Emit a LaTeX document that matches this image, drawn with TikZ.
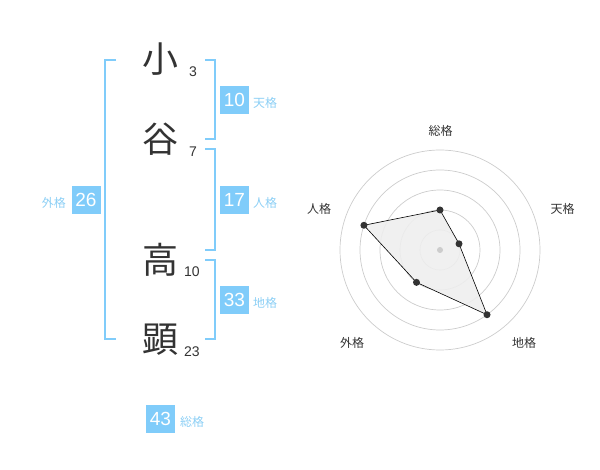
\documentclass[tikz,border=0pt]{standalone}
\usepackage{fontspec}
\setmainfont{Liberation Sans}
\newfontfamily\cjk{Noto Sans CJK JP}
\definecolor{accent}{HTML}{80CCFA}
\definecolor{lbl}{HTML}{8CCFF5}
\definecolor{ink}{HTML}{333333}
\definecolor{ring}{HTML}{CCCCCC}
\definecolor{area}{HTML}{EEEEEE}
\tikzset{
  kanji/.style={font=\cjk\fontsize{36}{36}\selectfont, text=ink, inner sep=0pt},
  stroke/.style={font=\fontsize{14}{14}\selectfont, text=ink, inner sep=0pt},
  numbox/.style={fill=accent, text=white, minimum width=29pt, minimum height=28pt, inner sep=0pt, font=\fontsize{19}{19}\selectfont},
  kaku/.style={font=\cjk\fontsize{12}{12}\selectfont, text=lbl, inner sep=0pt, anchor=west},
  bracket/.style={draw=accent, line width=2pt},
  ringline/.style={draw=ring, line width=0.7pt},
  axislbl/.style={font=\cjk\fontsize{12}{12}\selectfont, text=ink, inner sep=0pt},
  dot/.style={circle, fill=ink, inner sep=0pt, minimum size=7pt},
}
\begin{document}
\begin{tikzpicture}[x=1pt,y=-1pt]
\useasboundingbox (0,0) rectangle (600,470);
% characters
\node[kanji] (c1) at (160,59) {小};
\node[kanji] (c2) at (160,139) {谷};
\node[kanji] (c3) at (160,260) {高};
\node[kanji] (c4) at (160,340) {顕};
\node[stroke] (s1) at (193,72) {3};
\node[stroke] (s2) at (193,152) {7};
\node[stroke] (s3) at (192,272) {10};
\node[stroke] (s4) at (192,352) {23};
% brackets
\coordinate (lt) at (116,60); \coordinate (lb) at (116,339);
\draw[bracket] (lt) -- (105,60) -- (105,339) -- (lb);
\coordinate (t1) at (205,60); \coordinate (t2) at (205,139.5);
\draw[bracket] (t1) -- (215,60) -- (215,139.5) -- (t2);
\coordinate (p1) at (205,149.5); \coordinate (p2) at (205,250);
\draw[bracket] (p1) -- (215,149.5) -- (215,250) -- (p2);
\coordinate (g1) at (205,260); \coordinate (g2) at (205,339);
\draw[bracket] (g1) -- (215,260) -- (215,339) -- (g2);
% boxes
\node[numbox] (ten) at (234.5,100) {10};
\node[kaku] (tenl) at (253,103) {天格};
\node[numbox] (jin) at (234.5,200) {17};
\node[kaku] (jinl) at (253,203) {人格};
\node[numbox] (chi) at (234.5,300) {33};
\node[kaku] (chil) at (253,303) {地格};
\node[numbox] (gai) at (86,200) {26};
\node[kaku, anchor=east] (gail) at (66,203) {外格};
\node[numbox] (sou) at (160.5,418.5) {43};
\node[kaku] (soul) at (180,422) {総格};
% radar
\coordinate (ctr) at (440,250);
\foreach \r in {20,40,60,80,100} \draw[ringline] (ctr) circle[radius=\r];
\path (ctr) ++(0,-40) coordinate (vs);
\path (ctr) ++({20*cos(18)},{-20*sin(18)}) coordinate (vt);
\path (ctr) ++({80*cos(54)},{80*sin(54)}) coordinate (vc);
\path (ctr) ++({-40*cos(54)},{40*sin(54)}) coordinate (vg);
\path (ctr) ++({-80*cos(18)},{-80*sin(18)}) coordinate (vj);
\fill[area, opacity=0.9] (vs) -- (vt) -- (vc) -- (vg) -- (vj) -- cycle;
\draw[black, line width=0.6pt] (vs) -- (vt) -- (vc) -- (vg) -- (vj) -- cycle;
\node[circle, fill=ring, inner sep=0pt, minimum size=6pt] (cdot) at (ctr) {};
\foreach \v in {vs,vt,vc,vg,vj} \node[dot] at (\v) {};
\node[axislbl] (as) at (440.5,130.5) {総格};
\node[axislbl] (at) at (562.5,209) {天格};
\node[axislbl] (aj) at (319,209) {人格};
\node[axislbl] (ag) at (352,342.5) {外格};
\node[axislbl] (ac) at (524,342.5) {地格};
\end{tikzpicture}
\end{document}
